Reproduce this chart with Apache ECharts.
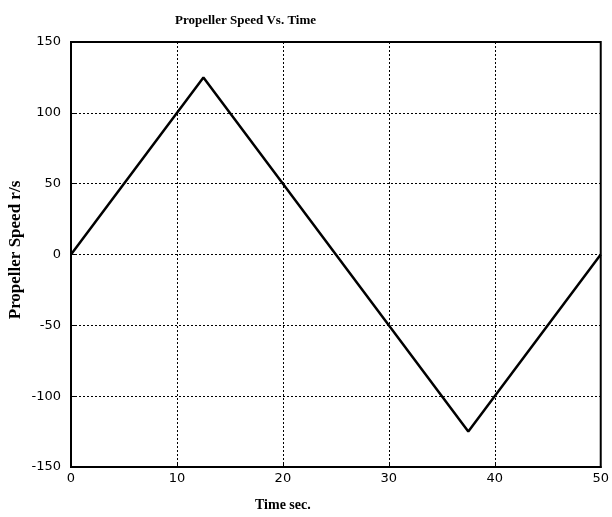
<!DOCTYPE html>
<html><head><meta charset="utf-8">
<script src="https://cdn.jsdelivr.net/npm/echarts@6/dist/echarts.min.js"></script>
<style>html,body{margin:0;padding:0;background:#fff}#c{width:612px;height:517px}</style>
</head><body><div id="c"></div>
<script>
var timeSec = [0, 12.5, 37.5, 50];
var speed = [0, 125, -125, 0];
var xTicks = [0, 10, 20, 30, 40, 50];
var yTicks = [-150, -100, -50, 0, 50, 100, 150];

var chart = echarts.init(document.getElementById('c'), null, {renderer: 'canvas'});
var serif = '"Liberation Serif", "Times New Roman", serif';
var sans = '"DejaVu Sans", sans-serif';
chart.setOption({
  animation: false,
  backgroundColor: '#fff',
  title: {
    text: 'Propeller Speed Vs. Time',
    left: 170, top: 9,
    textStyle: {fontFamily: serif, fontWeight: 'bold', fontSize: 13, color: '#000'}
  },
  graphic: [{
    type: 'text', left: 255, top: 498,
    style: {text: 'Time sec.', font: 'bold 14px ' + serif, fill: '#000'}
  }, {
    type: 'text', x: 16, y: 250, rotation: Math.PI / 2,
    style: {text: 'Propeller Speed r/s', font: 'bold 17px ' + serif, fill: '#000', align: 'center', verticalAlign: 'middle'}
  }],
  grid: {left: 71, right: 10, top: 42, bottom: 50, show: true, borderColor: '#000', borderWidth: 2, backgroundColor: 'transparent'},
  xAxis: {
    type: 'value', min: xTicks[0], max: xTicks[xTicks.length - 1], interval: 10,
    axisLine: {show: true, onZero: false, lineStyle: {color: '#000', width: 2}},
    axisTick: {show: true, inside: true, length: 4, lineStyle: {color: '#000', width: 1}},
    axisLabel: {color: '#000', fontFamily: sans, fontSize: 13, margin: 5},
    splitLine: {show: true, lineStyle: {color: '#000', width: 1, type: [2, 2]}}
  },
  yAxis: {
    type: 'value', min: yTicks[0], max: yTicks[yTicks.length - 1], interval: 50,
    axisLine: {show: true, onZero: false, lineStyle: {color: '#000', width: 2}},
    axisTick: {show: true, inside: true, length: 4, lineStyle: {color: '#000', width: 1}},
    axisLabel: {color: '#000', fontFamily: sans, fontSize: 13, margin: 10},
    splitLine: {show: true, lineStyle: {color: '#000', width: 1, type: [2, 2]}}
  },
  series: [{
    type: 'line',
    data: timeSec.map(function (t, i) { return [t, speed[i]]; }),
    showSymbol: false,
    lineStyle: {color: '#000', width: 2.5},
    clip: false
  }]
});
</script></body></html>
